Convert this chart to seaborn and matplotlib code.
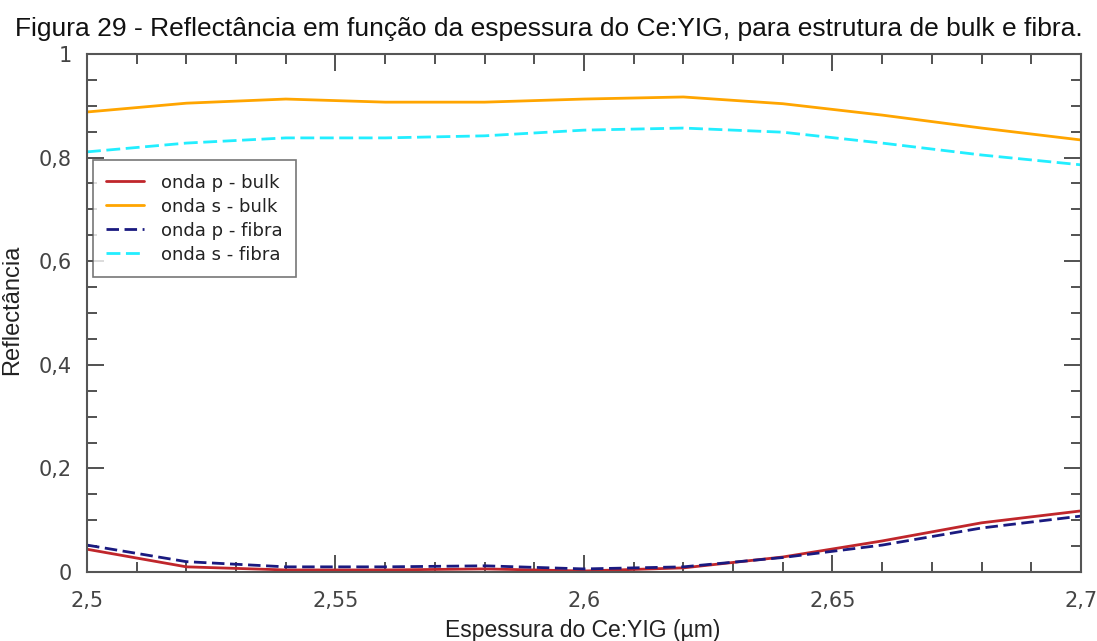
import numpy as np
import pandas as pd
import matplotlib
matplotlib.use("Agg")
import matplotlib.pyplot as plt
from matplotlib.ticker import MultipleLocator, FuncFormatter
import seaborn as sns

# Ce:YIG thickness (µm) and reflectance for each wave / structure
espessura = [2.50, 2.52, 2.54, 2.56, 2.58, 2.60, 2.62, 2.64, 2.66, 2.68, 2.70]
onda_p_bulk = [0.044, 0.010, 0.004, 0.004, 0.006, 0.002, 0.008, 0.029, 0.060, 0.095, 0.118]
onda_s_bulk = [0.888, 0.905, 0.913, 0.907, 0.907, 0.913, 0.917, 0.904, 0.882, 0.857, 0.834]
onda_p_fibra = [0.052, 0.020, 0.010, 0.010, 0.012, 0.006, 0.010, 0.028, 0.052, 0.085, 0.108]
onda_s_fibra = [0.811, 0.828, 0.838, 0.838, 0.842, 0.853, 0.857, 0.849, 0.828, 0.805, 0.786]

series_labels = ["onda p - bulk", "onda s - bulk", "onda p - fibra", "onda s - fibra"]
series_colors = ["#c0262b", "#ffa500", "#1a1a80", "#22eeff"]

sns.set_theme(style="white")
plt.rcParams["font.family"] = ["DejaVu Sans"]

fig = plt.figure(figsize=(10.97, 6.41), dpi=100)
ax = fig.add_axes([0.0793, 0.1076, 0.9061, 0.8082])

df = pd.DataFrame({
    "x": espessura * 4,
    "y": onda_p_bulk + onda_s_bulk + onda_p_fibra + onda_s_fibra,
    "serie": sum([[lab] * len(espessura) for lab in series_labels], []),
})

dash_map = {
    "onda p - bulk": "",
    "onda s - bulk": "",
    "onda p - fibra": (4.5, 2),
    "onda s - fibra": (5, 2),
}
sns.lineplot(data=df, x="x", y="y", hue="serie", style="serie",
             palette=dict(zip(series_labels, series_colors)),
             dashes=dash_map, linewidth=2.0, ax=ax, legend=True)

ax.set_xlim(2.5, 2.7)
ax.set_ylim(0, 1)
ax.xaxis.set_major_locator(MultipleLocator(0.05))
ax.xaxis.set_minor_locator(MultipleLocator(0.01))
ax.yaxis.set_major_locator(MultipleLocator(0.2))
ax.yaxis.set_minor_locator(MultipleLocator(0.05))

def virgula(v, pos):
    s = f"{v:.2f}".rstrip("0").rstrip(".")
    return s.replace(".", ",")

ax.xaxis.set_major_formatter(FuncFormatter(virgula))
ax.yaxis.set_major_formatter(FuncFormatter(virgula))

ax.tick_params(which="both", direction="in", top=True, right=True,
               bottom=True, left=True, color="#333333", width=1.2)
ax.tick_params(which="major", length=12, labelsize=15, labelcolor="#444444")
ax.tick_params(which="minor", length=7)
ax.tick_params(axis="x", which="major", pad=14)
ax.tick_params(axis="y", which="major", pad=11)
for sp in ax.spines.values():
    sp.set_color("#555555")
    sp.set_linewidth(1.5)

ax.set_xlabel("")
ax.set_ylabel("")

leg = ax.legend(loc="upper left", bbox_to_anchor=(0.006, 0.795), borderaxespad=0,
                fontsize=13, frameon=True, fancybox=False, edgecolor="#555555",
                handlelength=2.1, handletextpad=0.9, borderpad=0.75,
                labelspacing=0.33, title=None)
leg.get_frame().set_linewidth(1.2)
for t in leg.get_texts():
    t.set_color("#222222")

fig.text(0.5, 0.955, "Figura 29 - Reflectância em função da espessura do Ce:YIG, para estrutura de bulk e fibra.",
         ha="center", va="center", fontsize=19, family="Liberation Sans", color="#111111")
fig.text(0.531, 0.017, "Espessura do Ce:YIG (µm)", ha="center", va="center",
         fontsize=16.5, family="Liberation Sans", color="#222222")
fig.text(0.011, 0.516, "Reflectância", ha="center", va="center", rotation=90,
         fontsize=17, family="Liberation Sans", color="#222222")

fig.savefig("out.png", dpi=100)
